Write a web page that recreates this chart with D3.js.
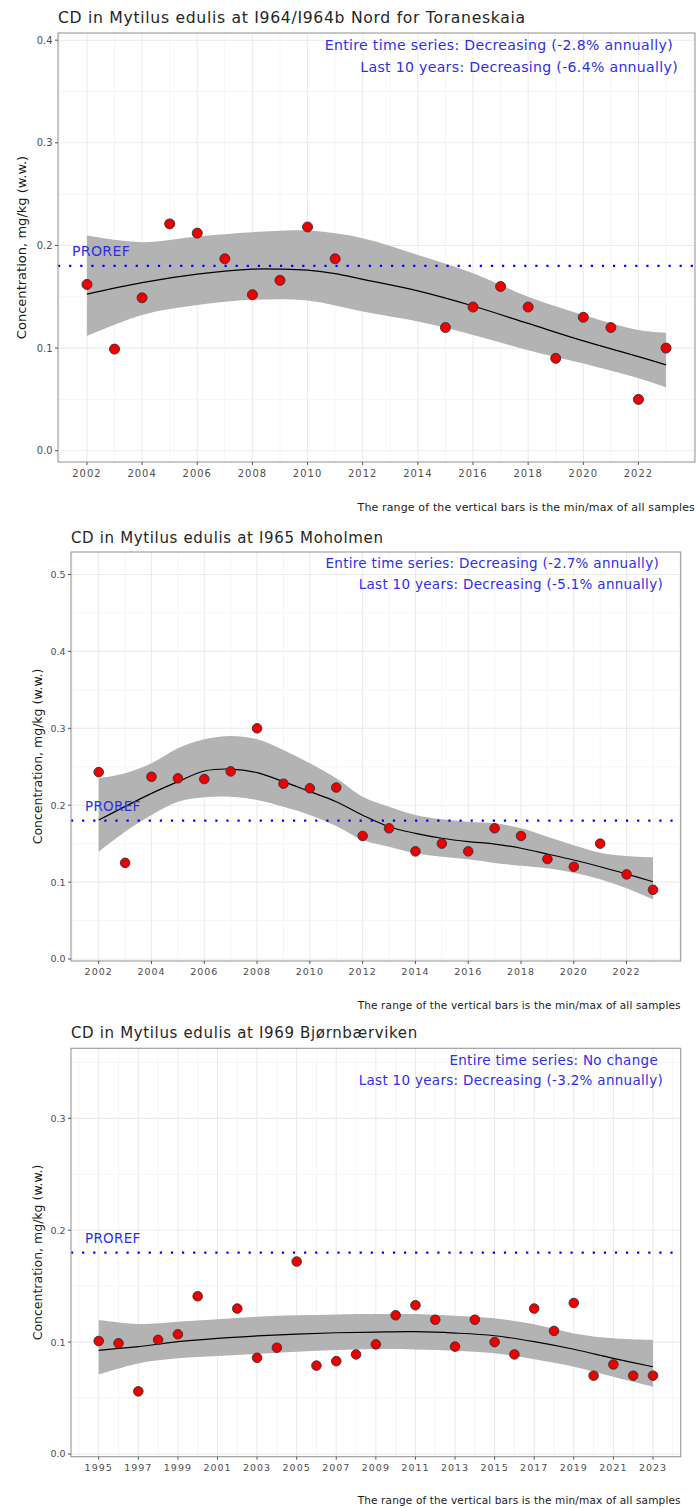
<!DOCTYPE html>
<html><head><meta charset="utf-8">
<script src="https://cdn.jsdelivr.net/npm/d3@7"></script>
<style>body{margin:0;background:#fff}svg{display:block}text{font-family:"DejaVu Sans",sans-serif}</style>
</head><body>
<svg id="chart" width="697" height="1508"></svg>
<script>
// ---------- Data ----------
const titles = [
  "CD in Mytilus edulis at I964/I964b Nord for Toraneskaia",
  "CD in Mytilus edulis at I965 Moholmen",
  "CD in Mytilus edulis at I969 Bjørnbærviken"
];
const trendLine1 = ["Entire time series: Decreasing (-2.8% annually)", "Entire time series: Decreasing (-2.7% annually)", "Entire time series: No change"];
const trendLine2 = ["Last 10 years: Decreasing (-6.4% annually)", "Last 10 years: Decreasing (-5.1% annually)", "Last 10 years: Decreasing (-3.2% annually)"];
const yAxisTitle = "Concentration, mg/kg (w.w.)";
const captionText = "The range of the vertical bars is the min/max of all samples";
const prorefLabel = "PROREF";
const prorefValue = 0.18;

// Panel 1: I964/I964b Nord for Toraneskaia
const years1 = [2002,2003,2004,2005,2006,2007,2008,2009,2010,2011,2015,2016,2017,2018,2019,2020,2021,2022,2023];
const conc1  = [0.162,0.099,0.149,0.221,0.212,0.187,0.152,0.166,0.218,0.187,0.120,0.140,0.160,0.140,0.090,0.130,0.120,0.050,0.100];
const fitYears1 = [2002,2004,2006,2008,2009,2010,2011,2012,2014,2016,2018,2020,2022,2023];
const fit1      = [0.1525,0.1638,0.172,0.1769,0.1769,0.1759,0.1726,0.167,0.1557,0.141,0.124,0.107,0.0917,0.0836];
const bandYears1 = [2002,2004,2006,2008,2010,2012,2014,2016,2018,2020,2022,2023];
const upper1     = [0.2097,0.2032,0.2087,0.2129,0.2145,0.2071,0.1908,0.173,0.150,0.1323,0.1177,0.115];
const lower1     = [0.1118,0.1323,0.142,0.147,0.1463,0.1356,0.1258,0.1128,0.098,0.085,0.0706,0.0618];
const yTicks1 = [0,0.1,0.2,0.3,0.4];
const xTicks1 = [2002,2004,2006,2008,2010,2012,2014,2016,2018,2020,2022];

// Panel 2: I965 Moholmen
const years2 = [2002,2003,2004,2005,2006,2007,2008,2009,2010,2011,2012,2013,2014,2015,2016,2017,2018,2019,2020,2021,2022,2023];
const conc2  = [0.243,0.125,0.237,0.235,0.234,0.244,0.300,0.228,0.222,0.223,0.160,0.170,0.140,0.150,0.140,0.170,0.160,0.130,0.120,0.150,0.110,0.090];
const fitYears2 = [2002,2004,2005,2006,2007,2008,2009,2010,2011,2012,2013,2014,2015,2016,2017,2018,2019,2020,2021,2022,2023];
const fit2      = [0.1807,0.2154,0.2306,0.2445,0.247,0.2423,0.2306,0.2176,0.2046,0.187,0.172,0.1634,0.157,0.1526,0.1495,0.144,0.1365,0.1287,0.120,0.1105,0.1005];
const bandYears2 = [2002,2003,2004,2005,2006,2007,2008,2009,2010,2011,2012,2013,2014,2015,2016,2017,2018,2019,2020,2021,2022,2023];
const upper2     = [0.235,0.2415,0.2545,0.274,0.2857,0.290,0.2857,0.2718,0.2545,0.235,0.211,0.198,0.1873,0.1816,0.1786,0.1764,0.170,0.159,0.148,0.1383,0.134,0.1322];
const lower2     = [0.1395,0.1655,0.1873,0.2046,0.2103,0.211,0.2068,0.198,0.1873,0.173,0.1547,0.146,0.1374,0.133,0.1296,0.125,0.1213,0.118,0.1122,0.1036,0.092,0.0776];
const yTicks2 = [0,0.1,0.2,0.3,0.4,0.5];
const xTicks2 = [2002,2004,2006,2008,2010,2012,2014,2016,2018,2020,2022];

// Panel 3: I969 Bjørnbærviken
const years3 = [1995,1996,1997,1998,1999,2000,2002,2003,2004,2005,2006,2007,2008,2009,2010,2011,2012,2013,2014,2015,2016,2017,2018,2019,2020,2021,2022,2023];
const conc3  = [0.101,0.099,0.056,0.102,0.107,0.141,0.130,0.086,0.095,0.172,0.079,0.083,0.089,0.098,0.124,0.133,0.120,0.096,0.120,0.100,0.089,0.130,0.110,0.135,0.070,0.080,0.070,0.070];
const fitYears3 = [1995,1997,1999,2001,2003,2005,2007,2009,2011,2013,2015,2017,2019,2021,2023];
const fit3      = [0.0927,0.0959,0.1004,0.1034,0.1055,0.1072,0.1084,0.109,0.1093,0.1081,0.1057,0.1004,0.0936,0.0855,0.078];
const bandYears3 = [1995,1997,1999,2001,2003,2005,2007,2009,2011,2013,2015,2017,2019,2021,2023];
const upper3     = [0.1197,0.1162,0.1182,0.1204,0.1227,0.124,0.1248,0.1251,0.1251,0.1236,0.1213,0.1159,0.1078,0.1034,0.1019];
const lower3     = [0.0712,0.081,0.0855,0.0876,0.0894,0.0914,0.0929,0.0938,0.0935,0.0923,0.090,0.0846,0.078,0.069,0.0601];
const yTicks3 = [0,0.1,0.2,0.3];
const xTicks3 = [1995,1997,1999,2001,2003,2005,2007,2009,2011,2013,2015,2017,2019,2021,2023];

// ---------- Layout ----------
const panels = [
  {left:58, top:33, right:695, bottom:462, xDom:[2000.95,2024.05], yDom:[-0.011,0.407],
   years:years1, conc:conc1, fitYears:fitYears1, fit:fit1, bandYears:bandYears1, upper:upper1, lower:lower1,
   yTicks:yTicks1, xTicks:xTicks1, s:1.045, titleY:22.5, axTitleX:21, ann:[[673,50],[678,71.5]], captionY:511, tickLabY:477},
  {left:71, top:552, right:680.7, bottom:961, xDom:[2000.95,2024.05], yDom:[-0.0026,0.5293],
   years:years2, conc:conc2, fitYears:fitYears2, fit:fit2, bandYears:bandYears2, upper:upper2, lower:lower2,
   yTicks:yTicks2, xTicks:xTicks2, s:1.0, titleY:542.7, axTitleX:37, ann:[[659,567.7],[663,589]], captionY:1008.5, tickLabY:975},
  {left:71, top:1048.3, right:680.7, bottom:1456.7, xDom:[1993.6,2024.4], yDom:[-0.0024,0.3626],
   years:years3, conc:conc3, fitYears:fitYears3, fit:fit3, bandYears:bandYears3, upper:upper3, lower:lower3,
   yTicks:yTicks3, xTicks:xTicks3, s:1.0, titleY:1038.3, axTitleX:37, ann:[[658,1064.5],[663,1085]], captionY:1503.5, tickLabY:1470.7}
];

const svg = d3.select("#chart");
const fmt = d3.format(".1f");
const blueText = "#2e2ee6";

panels.forEach((p, i) => {
  const g = svg.append("g");
  const x = d3.scaleLinear().domain(p.xDom).range([p.left, p.right]);
  const y = d3.scaleLinear().domain(p.yDom).range([p.bottom, p.top]);
  const s = p.s;

  const yMinor = p.yTicks.map(t => t + 0.05).filter(v => v < p.yDom[1]);
  g.selectAll(".ymin").data(yMinor).join("line")
    .attr("x1", p.left).attr("x2", p.right).attr("y1", d => y(d)).attr("y2", d => y(d))
    .attr("stroke", "#f2f2f2").attr("stroke-width", 0.8);
  const allYears = d3.range(Math.ceil(p.xDom[0]), Math.floor(p.xDom[1]) + 1);
  const xMinor = allYears.filter(v => !p.xTicks.includes(v));
  g.selectAll(".xmin").data(xMinor).join("line")
    .attr("y1", p.top).attr("y2", p.bottom).attr("x1", d => x(d)).attr("x2", d => x(d))
    .attr("stroke", "#f2f2f2").attr("stroke-width", 0.8);
  g.selectAll(".ymaj").data(p.yTicks).join("line")
    .attr("x1", p.left).attr("x2", p.right).attr("y1", d => y(d)).attr("y2", d => y(d))
    .attr("stroke", "#ebebeb").attr("stroke-width", 1.1);
  g.selectAll(".xmaj").data(p.xTicks).join("line")
    .attr("y1", p.top).attr("y2", p.bottom).attr("x1", d => x(d)).attr("x2", d => x(d))
    .attr("stroke", "#ebebeb").attr("stroke-width", 1.1);

  const bandData = p.bandYears.map((yr, k) => ({yr, lo: p.lower[k], hi: p.upper[k]}));
  g.append("path").datum(bandData)
    .attr("d", d3.area().x(d => x(d.yr)).y0(d => y(d.lo)).y1(d => y(d.hi)).curve(d3.curveCatmullRom))
    .attr("fill", "#b3b3b3");
  const fitData = p.fitYears.map((yr, k) => ({yr, v: p.fit[k]}));
  g.append("path").datum(fitData)
    .attr("d", d3.line().x(d => x(d.yr)).y(d => y(d.v)).curve(d3.curveCatmullRom))
    .attr("fill", "none").attr("stroke", "#000").attr("stroke-width", 1.2 * s);

  g.append("line").attr("x1", p.left).attr("x2", p.right)
    .attr("y1", y(prorefValue)).attr("y2", y(prorefValue))
    .attr("stroke", "#0000ff").attr("stroke-width", 2.2)
    .attr("stroke-dasharray", "2.2 8.9");
  g.append("text").attr("x", p.left + 14).attr("y", y(prorefValue) - 9.5 * s)
    .attr("fill", blueText).attr("font-size", 13.5 * s).attr("letter-spacing", 0.3 * s).text(prorefLabel);

  const pts = p.years.map((yr, k) => ({yr, v: p.conc[k]}));
  g.selectAll(".pt").data(pts).join("circle")
    .attr("cx", d => x(d.yr)).attr("cy", d => y(d.v)).attr("r", 4.8 * s)
    .attr("fill", "#ee0000").attr("stroke", "#333").attr("stroke-width", 0.9);

  g.append("rect").attr("x", p.left).attr("y", p.top)
    .attr("width", p.right - p.left).attr("height", p.bottom - p.top)
    .attr("fill", "none").attr("stroke", "#999").attr("stroke-width", 1.1);

  g.selectAll(".ytk").data(p.yTicks).join("line")
    .attr("x1", p.left - 3).attr("x2", p.left).attr("y1", d => y(d)).attr("y2", d => y(d))
    .attr("stroke", "#555").attr("stroke-width", 1);
  g.selectAll(".ylab").data(p.yTicks).join("text")
    .attr("x", p.left - 5.5).attr("y", d => y(d) + 3.4 * s)
    .attr("text-anchor", "end").attr("font-size", 9.5 * s).attr("fill", "#4d4d4d")
    .text(d => fmt(d));
  g.selectAll(".xtk").data(p.xTicks).join("line")
    .attr("y1", p.bottom).attr("y2", p.bottom + 3).attr("x1", d => x(d)).attr("x2", d => x(d))
    .attr("stroke", "#555").attr("stroke-width", 1);
  g.selectAll(".xlab").data(p.xTicks).join("text")
    .attr("x", d => x(d)).attr("y", p.tickLabY)
    .attr("text-anchor", "middle").attr("font-size", 9.5 * s).attr("fill", "#4d4d4d")
    .attr("letter-spacing", 1 * s)
    .text(d => d);

  g.append("text").attr("x", p.left).attr("y", p.titleY)
    .attr("font-size", 15 * s).attr("letter-spacing", 0.65 * s).attr("fill", "#262626").text(titles[i]);
  g.append("text")
    .attr("transform", `translate(${p.axTitleX},${(p.top + p.bottom) / 2}) rotate(-90)`)
    .attr("text-anchor", "middle").attr("dominant-baseline", "central")
    .attr("font-size", 12.5 * s).attr("fill", "#1a1a1a").text(yAxisTitle);
  g.append("text").attr("x", p.ann[0][0]).attr("y", p.ann[0][1])
    .attr("text-anchor", "end").attr("font-size", 13.5 * s).attr("letter-spacing", 0.3 * s)
    .attr("fill", blueText).text(trendLine1[i]);
  g.append("text").attr("x", p.ann[1][0]).attr("y", p.ann[1][1])
    .attr("text-anchor", "end").attr("font-size", 13.5 * s).attr("letter-spacing", 0.3 * s)
    .attr("fill", blueText).text(trendLine2[i]);
  g.append("text").attr("x", p.right).attr("y", p.captionY)
    .attr("text-anchor", "end").attr("font-size", 10.5 * s).attr("letter-spacing", 0.15 * s)
    .attr("fill", "#1a1a1a").text(captionText);
});
</script>
</body></html>
